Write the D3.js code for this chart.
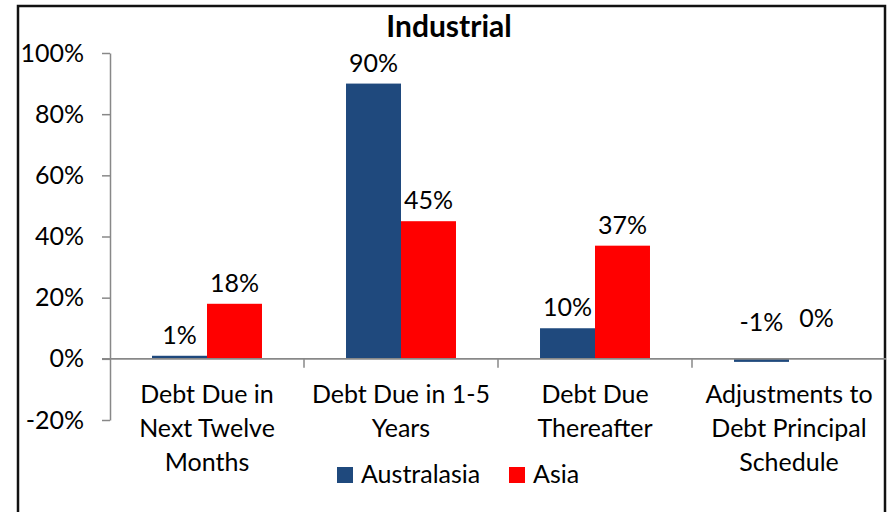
<!DOCTYPE html>
<meta charset="utf-8">
<head>
    <script src="https://d3js.org/d3.v7.min.js"></script>
    <style>
        body {
            margin: 0;
            background-color: white;
        }

        svg text {
            font-family: Lato, "Open Sans", sans-serif;
            fill: black;
        }
    </style>
</head>

<body>
    <div class='viz'></div>

    <script>
        // chart data
        var categories = ["Debt Due in Next Twelve Months", "Debt Due in 1-5 Years",
            "Debt Due Thereafter", "Adjustments to Debt Principal Schedule"];
        var categoryLines = [
            ["Debt Due in", "Next Twelve", "Months"],
            ["Debt Due in 1-5", "Years"],
            ["Debt Due", "Thereafter"],
            ["Adjustments to", "Debt Principal", "Schedule"]
        ];
        var series = ["Australasia", "Asia"];
        var australasia = [1, 90, 10, -1];
        var asia = [18, 45, 37, 0];
        var yTicks = [-20, 0, 20, 40, 60, 80, 100];

        var colors = d3.scaleOrdinal().domain(series).range(["#1f497d", "#ff0000"]);

        var width = 892,
            height = 512;

        var svg = d3.select("div.viz").append("svg")
            .attr("width", width)
            .attr("height", height);

        // chart border
        svg.append("rect")
            .attr("x", 18)
            .attr("y", 6)
            .attr("width", 867)
            .attr("height", 530)
            .style("fill", "none")
            .style("stroke", "#111")
            .style("stroke-width", 2.5);

        var y = d3.scaleLinear().domain([-20, 100]).range([420, 53]);

        var x = d3.scaleBand().domain(categories).range([110, 886]);

        var xInner = d3.scaleBand().domain(series)
            .range([0, x.bandwidth()])
            .paddingInner(0)
            .paddingOuter(0.764);

        var rows = categories.map(function(c, i) {
            return {
                cat: c,
                i: i,
                values: [
                    { s: "Australasia", v: australasia[i] },
                    { s: "Asia", v: asia[i] }
                ]
            };
        });

        // bars
        var groups = svg.selectAll("g.cat")
            .data(rows)
            .enter().append("g")
            .attr("class", "cat")
            .attr("transform", function(d) { return "translate(" + x(d.cat) + ",0)"; });

        groups.selectAll("rect")
            .data(function(d) { return d.values; })
            .enter().append("rect")
            .attr("x", function(d) { return xInner(d.s); })
            .attr("width", xInner.bandwidth())
            .attr("y", function(d) { return y(Math.max(d.v, 0)); })
            .attr("height", function(d) { return Math.abs(y(d.v) - y(0)); })
            .style("fill", function(d) { return colors(d.s); });

        // data labels (the last category's labels sit lifted off the axis)
        groups.each(function(row) {
            d3.select(this).selectAll("text.lbl")
                .data(row.values)
                .enter().append("text")
                .attr("class", "lbl")
                .attr("x", function(d) { return xInner(d.s) + xInner.bandwidth() / 2; })
                .attr("y", function(d) {
                    if (row.i == 3) return y(0) - (d.v < 0 ? 28 : 32);
                    return y(Math.max(d.v, 0)) - 12;
                })
                .attr("text-anchor", "middle")
                .style("font-size", "25px")
                .text(function(d) { return d.v + "%"; });
        });

        // y axis
        var yAxis = d3.axisLeft(y)
            .tickValues(yTicks)
            .tickSize(8)
            .tickSizeOuter(0)
            .tickPadding(18)
            .tickFormat(function(d) { return d + "%"; });

        var gy = svg.append("g")
            .attr("transform", "translate(110,0)")
            .call(yAxis);

        gy.select(".domain").style("stroke", "#888").style("stroke-width", 1.5);
        gy.selectAll(".tick line").style("stroke", "#888").style("stroke-width", 1.5);
        gy.selectAll(".tick text")
            .style("font-size", "25px")
            .style("font-family", "Lato, sans-serif")
            .style("fill", "black");

        // zero line and category tick marks
        svg.append("line")
            .attr("x1", 102)
            .attr("x2", 886)
            .attr("y1", y(0))
            .attr("y2", y(0))
            .style("stroke", "#888")
            .style("stroke-width", 1.8);

        svg.selectAll("line.ctick")
            .data(categories.slice(1))
            .enter().append("line")
            .attr("class", "ctick")
            .attr("x1", function(d) { return x(d); })
            .attr("x2", function(d) { return x(d); })
            .attr("y1", y(0))
            .attr("y2", y(0) + 9)
            .style("stroke", "#888")
            .style("stroke-width", 1.5);

        // category labels
        svg.selectAll("text.cat")
            .data(rows)
            .enter().append("text")
            .attr("class", "cat")
            .attr("text-anchor", "middle")
            .style("font-size", "25px")
            .each(function(d) {
                var t = d3.select(this);
                categoryLines[d.i].forEach(function(line, k) {
                    t.append("tspan")
                        .attr("x", x(d.cat) + x.bandwidth() / 2)
                        .attr("y", 403 + k * 34)
                        .text(line);
                });
            });

        // title
        svg.append("text")
            .attr("x", 449)
            .attr("y", 37)
            .attr("text-anchor", "middle")
            .style("font-size", "30px")
            .style("font-weight", "bold")
            .text("Industrial");

        // legend
        var legendX = [337, 509];
        var legend = svg.selectAll("g.legend")
            .data(series)
            .enter().append("g")
            .attr("class", "legend")
            .attr("transform", function(d, i) { return "translate(" + legendX[i] + ",467)"; });

        legend.append("rect")
            .attr("width", 16)
            .attr("height", 16)
            .style("fill", function(d) { return colors(d); });

        legend.append("text")
            .attr("x", 24)
            .attr("y", 16)
            .style("font-size", "25px")
            .text(function(d) { return d; });
    </script>
</body>
